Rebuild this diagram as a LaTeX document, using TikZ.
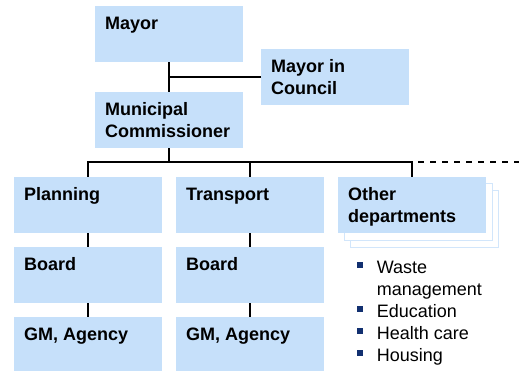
\documentclass[tikz,border=0pt]{standalone}
\usepackage{fontspec}
\setmainfont{Liberation Sans}
\definecolor{cBox}{RGB}{198,224,250}
\definecolor{cShade}{RGB}{210,230,251}
\definecolor{cLine}{RGB}{0,0,0}
\definecolor{cBullet}{RGB}{18,48,112}
\newcommand{\boxtxt}[1]{\parbox[c][56pt][t]{128pt}{\vspace*{7.9pt}\strut#1}}
\newcommand{\sqbul}{\textcolor{cBullet}{\rule[5.6pt]{5.6pt}{5.6pt}}}

\begin{document}
\begin{tikzpicture}[
  x=1pt, y=-1pt, font=\fontsize{18}{22}\selectfont,
  unit/.style ={fill=cBox, anchor=north west, inner xsep=10pt, inner ysep=0pt,
                font=\fontsize{18}{22}\selectfont\bfseries},
  stack/.style={draw=cShade, fill=white, line width=1pt, anchor=north west,
                minimum width=148pt, minimum height=57pt, inner sep=0pt},
  wire/.style ={draw=cLine, line width=2pt},
  more/.style ={draw=cLine, line width=2pt, dash pattern=on 6pt off 6pt, dash phase=6pt},
]
\useasboundingbox (0,0) rectangle (519,371);

% ----- geometry --------------------------------------------------------
\def\xA{14}\def\xB{176}\def\xC{338}
\def\yA{177}\def\yB{247}\def\yC{317}

% ----- top of the hierarchy --------------------------------------------
\node[unit] (mayor)   at (95,6)   {\boxtxt{Mayor}};
\node[unit] (council) at (261,49) {\boxtxt{Mayor in\\Council}};
\node[unit] (commish) at (95,92)  {\boxtxt{Municipal\\Commissioner}};

% ----- departments -----------------------------------------------------
\node[unit] (plan)   at (\xA,\yA) {\boxtxt{Planning}};
\node[unit] (plbrd)  at (\xA,\yB) {\boxtxt{Board}};
\node[unit] (plgm)   at (\xA,\yC) {\boxtxt{GM, Agency}};

\node[unit] (trans)  at (\xB,\yA) {\boxtxt{Transport}};
\node[unit] (trbrd)  at (\xB,\yB) {\boxtxt{Board}};
\node[unit] (trgm)   at (\xB,\yC) {\boxtxt{GM, Agency}};

\node[stack] (otherc) at (\xC+12,\yA+13) {};
\node[stack] (otherb) at (\xC+6,\yA+6)   {};
\node[unit]  (other)  at (\xC,\yA)       {\boxtxt{Other\\departments}};

\node[anchor=north west, inner sep=0pt] (duties) at (357,257.6)
  {\begin{tabular}{@{}l@{\hspace{14pt}}l@{}}
     \sqbul & Waste\\
            & management\\
     \sqbul & Education\\
     \sqbul & Health care\\
     \sqbul & Housing
   \end{tabular}};

% ----- lines -----------------------------------------------------------
\draw[wire] (mayor.south) -- (commish.north);
\draw[wire] (council.west) -- (council.west -| mayor.south);

\draw[wire] (commish.south) -- ++(0,14) coordinate (hub);
\draw[wire] (plan.north) -- (plan.north |- hub) -- (other.north |- hub) -- (other.north);
\draw[wire] (trans.north) -- (trans.north |- hub);
\coordinate (edge) at (519,0 |- hub);
\draw[more] (other.north |- hub) -- (edge |- hub);

\draw[wire] (plan.south)  -- (plbrd.north);
\draw[wire] (plbrd.south) -- (plgm.north);
\draw[wire] (trans.south) -- (trbrd.north);
\draw[wire] (trbrd.south) -- (trgm.north);

\end{tikzpicture}
\end{document}
